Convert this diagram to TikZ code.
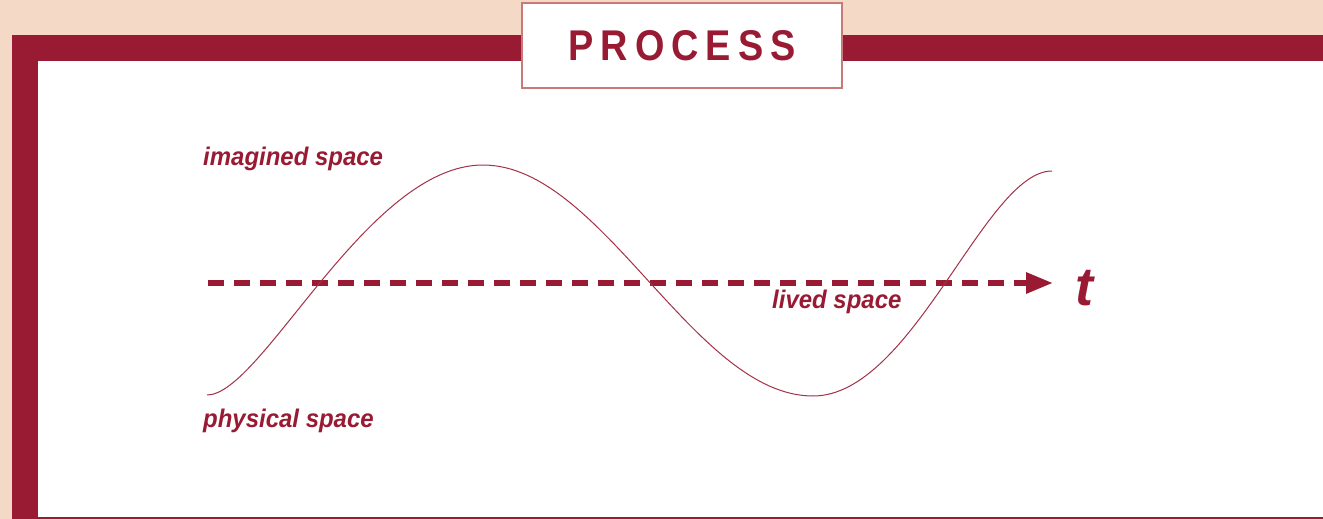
\documentclass[tikz,border=0pt]{standalone}
\usepackage{fontspec}
\setmainfont{Liberation Sans}
\newfontfamily\titlefont[FakeStretch=0.88]{Liberation Sans}
\newfontfamily\labelfont[FakeStretch=0.94]{Liberation Sans}
\usetikzlibrary{arrows.meta}
\definecolor{peach}{HTML}{F5D9C7}
\definecolor{dred}{HTML}{991B33}
\definecolor{boxline}{HTML}{C87A78}
\definecolor{wavecol}{HTML}{A43148}
\tikzset{
  titlebox/.style={draw=boxline, line width=2pt, fill=white, minimum width=320pt, minimum height=85pt, inner sep=0pt, text=dred},
  lbl/.style={inner sep=0pt, anchor=base west, text=dred, font=\labelfont\fontsize{25.5}{26}\selectfont\bfseries\itshape},
  wave/.style={draw=wavecol, line width=1pt},
  axis/.style={draw=dred, line width=6pt, dash pattern=on 15.5pt off 10.5pt, -{Triangle[length=27pt,width=20pt]}}
}
\newcommand{\tsp}{\hspace{7pt}}
\begin{document}
\begin{tikzpicture}[x=1pt,y=-1pt]
\useasboundingbox (0,0) rectangle (1323,519);
\fill[peach] (0,0) rectangle (1323,519);
\fill[dred] (12,35) rectangle (1323,519);
\fill[white] (38,61) rectangle (1323,517);
\node[titlebox] (title) at (682,45.5) {\titlefont\fontsize{43}{43}\selectfont\bfseries P\tsp R\tsp O\tsp C\tsp E\tsp S\tsp S};
\coordinate (a0) at (208,283);
\coordinate (a1) at (1053,283);
\draw[axis] (a0) -- (a1);
\draw[wave] (207,395) .. controls (262,395) and (367,165) .. (483,165)
  .. controls (602,165) and (694,396) .. (813,396)
  .. controls (913,396) and (985,171) .. (1052,171);
\node[lbl] (imag) at (203,165) {imagined space};
\node[lbl] (phys) at (203,427) {physical space};
\node[lbl] (lived) at (772,308) {lived space};
\node[lbl, font=\fontsize{54}{54}\selectfont\bfseries\itshape] (t) at (1075,305) {t};
\end{tikzpicture}
\end{document}
